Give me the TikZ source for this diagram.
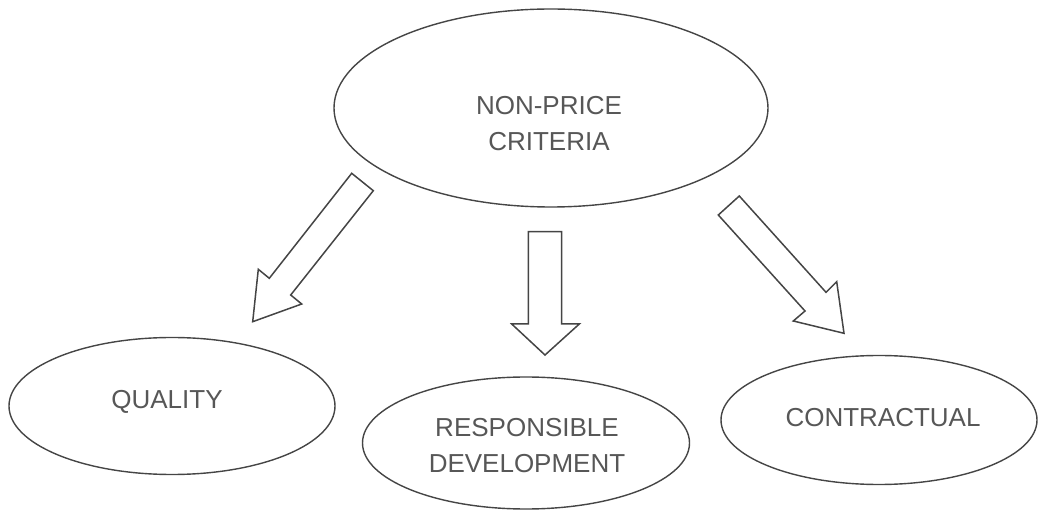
\documentclass[tikz,border=0pt]{standalone}
\usepackage{fontspec}
\setmainfont{Liberation Sans}
\usetikzlibrary{shapes.geometric}
\definecolor{edgegray}{HTML}{454545}
\definecolor{textgray}{HTML}{575757}
\begin{document}
\begin{tikzpicture}[x=1pt,y=-1pt,
  oval/.style={ellipse,draw=edgegray,line width=1.4pt,inner sep=0pt,fill=white},
  caption/.style={text=textgray,font=\fontsize{26}{36}\selectfont,align=center,inner sep=0pt},
  blockarrow/.style={draw=edgegray,line width=1.5pt,fill=white,line join=miter}]
\useasboundingbox (0,0) rectangle (1039,510);

% ovals
\node[oval,minimum width=434pt,minimum height=198pt] (top) at (551,108) {};
\node[oval,minimum width=326pt,minimum height=137pt] (quality) at (172,406) {};
\node[oval,minimum width=327pt,minimum height=132pt] (resp) at (526,443) {};
\node[oval,minimum width=316pt,minimum height=129pt] (contr) at (879,420) {};

% labels
\node[caption] (topl) at (549,124) {NON-PRICE\\CRITERIA};
\node[caption] (qualityl) at (167,402) {QUALITY};
\node[caption] (respl) at (527,446) {RESPONSIBLE\\DEVELOPMENT};
\node[caption] (contrl) at (883,418) {CONTRACTUAL};

% block arrows
\draw[blockarrow] (351.7,173.3) -- (373.3,190.7) -- (290.7,295) -- (301.7,304)
  -- (252.7,321.7) -- (258.3,269.3) -- (269.3,278.3) -- cycle;
\draw[blockarrow] (528.3,231.7) -- (561.7,231.7) -- (561.7,324) -- (579.3,324)
  -- (545,355) -- (511.7,324) -- (528.3,324) -- cycle;
\draw[blockarrow] (718.3,215) -- (739.3,196) -- (826,292.3) -- (836.7,281.7)
  -- (844,333.3) -- (793.3,321) -- (805,311) -- cycle;
\end{tikzpicture}
\end{document}
